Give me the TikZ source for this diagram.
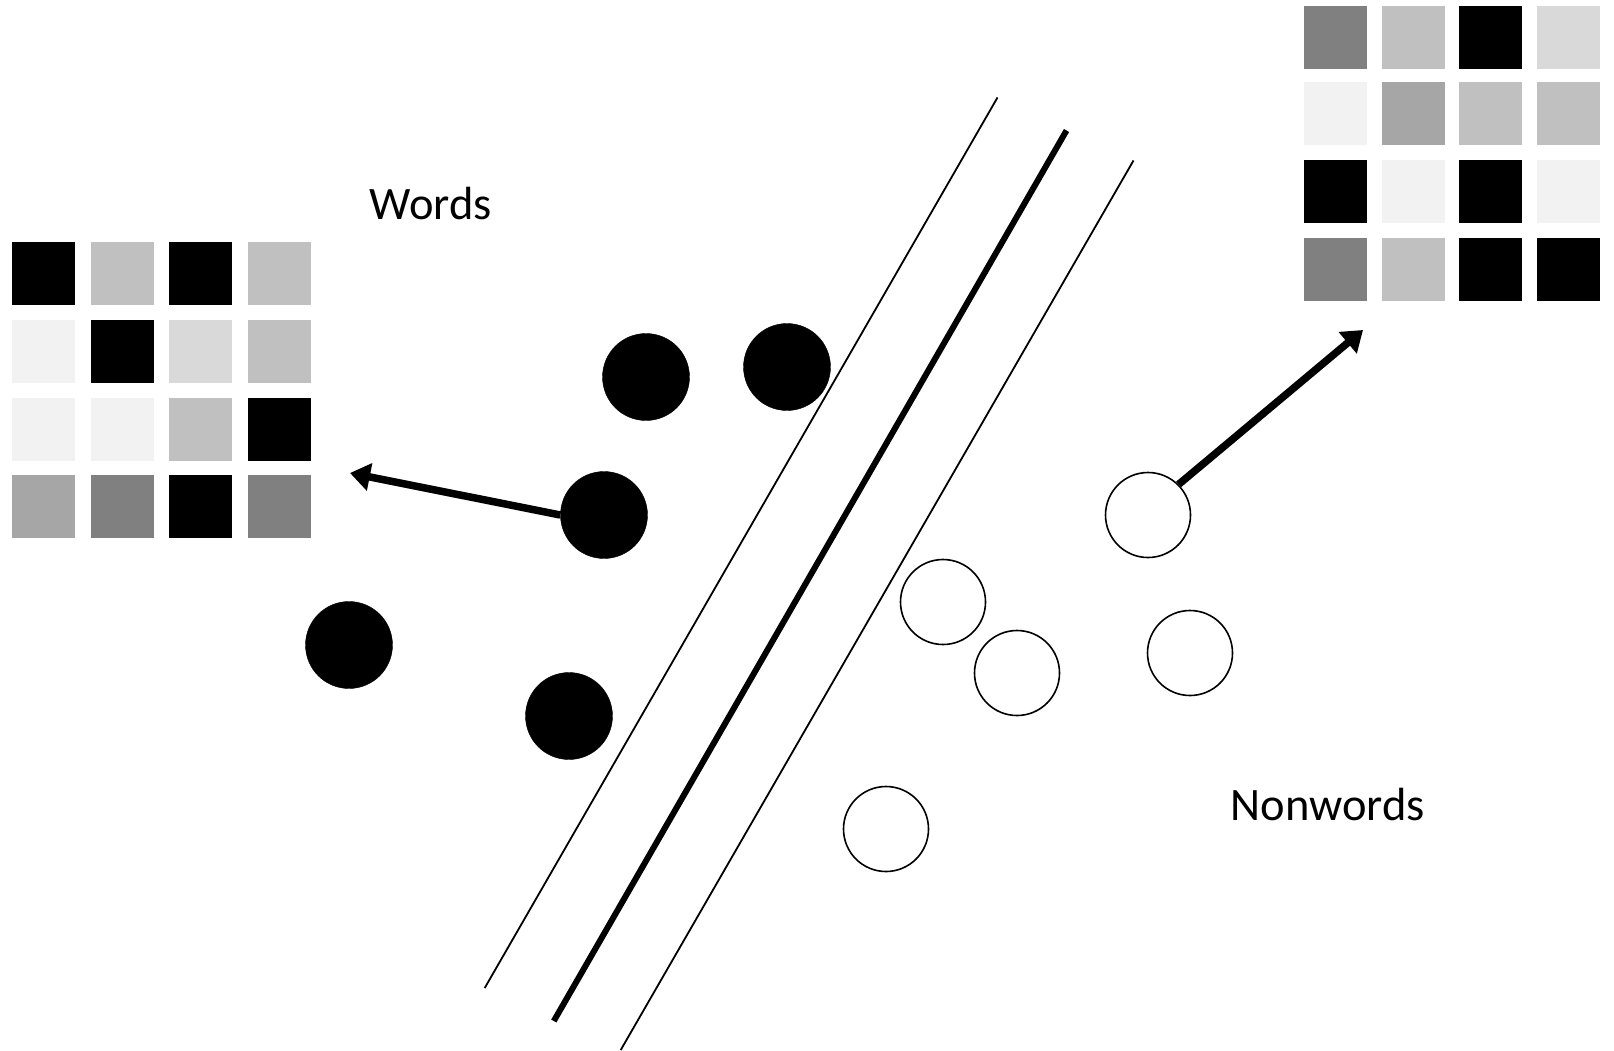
\documentclass[tikz,border=0pt]{standalone}
\usepackage{fontspec}
\setmainfont{Carlito}
\usetikzlibrary{arrows.meta}
\definecolor{gA}{HTML}{F2F2F2}
\definecolor{gB}{HTML}{D9D9D9}
\definecolor{gC}{HTML}{C0C0C0}
\definecolor{gD}{HTML}{A6A6A6}
\definecolor{gE}{HTML}{808080}
\definecolor{gK}{HTML}{000000}
\tikzset{
  wordpt/.style={circle, fill=black, draw=black, minimum size=87pt, inner sep=0pt},
  nonwordpt/.style={circle, fill=white, draw=black, line width=1.6pt, minimum size=85pt, inner sep=0pt},
  cell/.style={minimum size=63pt, inner sep=0pt, draw=none},
  sepline/.style={line width=1.8pt},
  sepmain/.style={line width=6pt},
  vecarrow/.style={line width=7.5pt, -{Triangle[length=20pt,width=27pt]}},
  lbl/.style={font=\fontsize{46.5}{56}\selectfont, inner sep=0pt}
}
\begin{document}
\begin{tikzpicture}[x=1pt,y=-1pt]
\useasboundingbox (0,0) rectangle (1614,1050);
% left grid (words)
\foreach \c [count=\i from 0] in {gK,gC,gK,gC}{\node[cell,fill=\c] (L1\i) at (43.5+78.7*\i,273.5) {};}
\foreach \c [count=\i from 0] in {gA,gK,gB,gC}{\node[cell,fill=\c] (L2\i) at (43.5+78.7*\i,351.5) {};}
\foreach \c [count=\i from 0] in {gA,gA,gC,gK}{\node[cell,fill=\c] (L3\i) at (43.5+78.7*\i,429.5) {};}
\foreach \c [count=\i from 0] in {gD,gE,gK,gE}{\node[cell,fill=\c] (L4\i) at (43.5+78.7*\i,506.5) {};}
% right grid (nonwords)
\foreach \c [count=\i from 0] in {gE,gC,gK,gB}{\node[cell,fill=\c] (R1\i) at (1335.5+77.7*\i,37.5) {};}
\foreach \c [count=\i from 0] in {gA,gD,gC,gC}{\node[cell,fill=\c] (R2\i) at (1335.5+77.7*\i,113.5) {};}
\foreach \c [count=\i from 0] in {gK,gA,gK,gA}{\node[cell,fill=\c] (R3\i) at (1335.5+77.7*\i,191.5) {};}
\foreach \c [count=\i from 0] in {gE,gC,gK,gK}{\node[cell,fill=\c] (R4\i) at (1335.5+77.7*\i,269.5) {};}
% separating lines
\coordinate (a1) at (997.5,97.5);  \coordinate (a2) at (484.7,988);
\coordinate (b1) at (1066.5,130.5); \coordinate (b2) at (553.8,1021);
\coordinate (c1) at (1133.5,160.5); \coordinate (c2) at (620.7,1050);
\draw[sepline] (a1) -- (a2);
\draw[sepmain] (b1) -- (b2);
\draw[sepline] (c1) -- (c2);
% words
\node[wordpt] (w1) at (646,377) {};
\node[wordpt] (w2) at (787,367) {};
\node[wordpt] (w3) at (604,515) {};
\node[wordpt] (w4) at (349,645) {};
\node[wordpt] (w5) at (569,716) {};
% nonwords
\node[nonwordpt] (n1) at (1148,515) {};
\node[nonwordpt] (n2) at (943,602) {};
\node[nonwordpt] (n3) at (1017,673) {};
\node[nonwordpt] (n4) at (1190,653) {};
\node[nonwordpt] (n5) at (886,829) {};
% arrows
\coordinate (tipL) at (350,473);
\coordinate (tipR) at (1363,330);
\draw[vecarrow] (w3.west) -- (tipL);
\draw[vecarrow] (n1.45) -- (tipR);
% labels
\node[lbl] (words) at (431,204) {Words};
\node[lbl] (nonwords) at (1328,805) {Nonwords};
\end{tikzpicture}
\end{document}
